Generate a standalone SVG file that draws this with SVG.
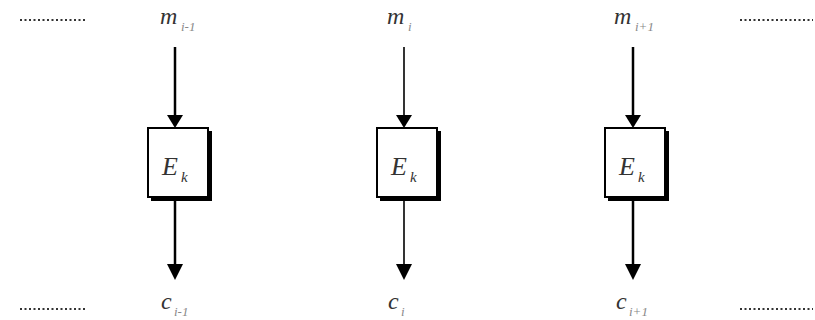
<svg xmlns="http://www.w3.org/2000/svg" width="815" height="320" viewBox="0 0 815 320">
<style>
.lbl{font-family:"Liberation Serif","DejaVu Serif",serif;font-style:italic;fill:#333;}
.sub{font-family:"Liberation Serif","DejaVu Serif",serif;font-style:italic;font-size:13px;fill:#888;}
.box{fill:#fff;stroke:#000;stroke-width:2;}
.shadow{fill:#000;}
.dots{stroke:#333;stroke-width:2;stroke-dasharray:2,2.5;}
.wire{stroke:#000;stroke-width:2.5;fill:none;}
.thin{stroke-width:1.6;}
.head{fill:#000;}
</style>
<g id="connectors">
<line class="wire" x1="175" y1="47" x2="175" y2="116"/>
<polygon class="head" points="167,115 183,115 175,128"/>
<line class="wire" x1="175" y1="198" x2="175" y2="265"/>
<polygon class="head" points="167,264 183,264 175,280"/>
<line class="wire thin" x1="404" y1="47" x2="404" y2="116"/>
<polygon class="head" points="396,115 412,115 404,128"/>
<line class="wire thin" x1="404" y1="198" x2="404" y2="265"/>
<polygon class="head" points="396,264 412,264 404,280"/>
<line class="wire" x1="633" y1="47" x2="633" y2="116"/>
<polygon class="head" points="625,115 641,115 633,128"/>
<line class="wire" x1="633" y1="198" x2="633" y2="265"/>
<polygon class="head" points="625,264 641,264 633,280"/>
</g>
<g id="dots">
<line class="dots" x1="20" y1="20" x2="86" y2="20"/>
<line class="dots" x1="740" y1="20" x2="813" y2="20"/>
<line class="dots" x1="20" y1="309" x2="86" y2="309"/>
<line class="dots" x1="740" y1="309" x2="813" y2="309"/>
</g>
<g id="node-left">
<rect class="shadow" x="151" y="131" width="61" height="70"/>
<rect class="box" x="148" y="128" width="60" height="69"/>
<text class="lbl" x="162" y="175" font-size="26">E</text><text class="lbl" x="181" y="182" font-size="15">k</text>
</g>
<g id="node-mid">
<rect class="shadow" x="380" y="131" width="61" height="70"/>
<rect class="box" x="377" y="128" width="60" height="69"/>
<text class="lbl" x="391" y="175" font-size="26">E</text><text class="lbl" x="410" y="182" font-size="15">k</text>
</g>
<g id="node-right">
<rect class="shadow" x="608" y="131" width="61" height="70"/>
<rect class="box" x="605" y="128" width="60" height="69"/>
<text class="lbl" x="619" y="175" font-size="26">E</text><text class="lbl" x="638" y="182" font-size="15">k</text>
</g>
<g id="labels">
<text class="lbl" x="160" y="24" font-size="24">m</text><text class="sub" x="181" y="31">i-1</text>
<text class="lbl" x="387" y="24" font-size="24">m</text><text class="sub" x="408" y="31">i</text>
<text class="lbl" x="614" y="24" font-size="24">m</text><text class="sub" x="635" y="31">i+1</text>
<text class="lbl" x="161" y="309" font-size="24">c</text><text class="sub" x="174" y="316">i-1</text>
<text class="lbl" x="388" y="309" font-size="24">c</text><text class="sub" x="401" y="316">i</text>
<text class="lbl" x="616" y="309" font-size="24">c</text><text class="sub" x="629" y="316">i+1</text>
</g>
</svg>
